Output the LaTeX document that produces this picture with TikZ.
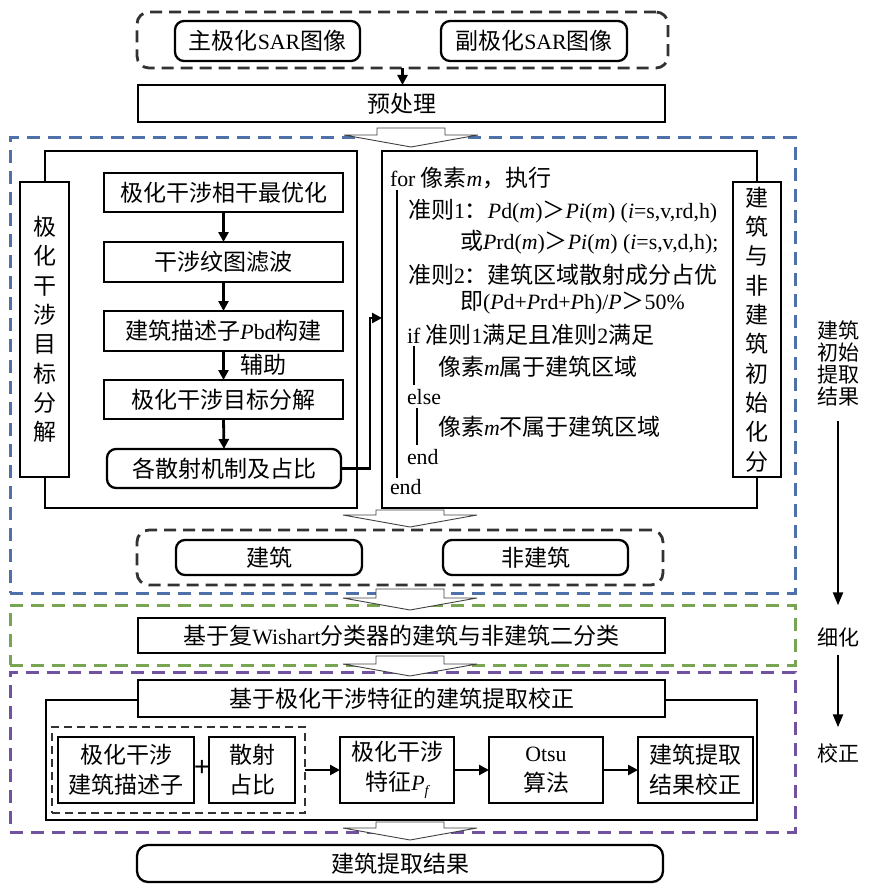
\documentclass[tikz,border=0pt]{standalone}
\usepackage{fontspec}
\setmainfont[Scale=0.95]{Liberation Serif}
\newfontfamily\cjk{Noto Sans CJK SC}
\usetikzlibrary{arrows.meta}
\definecolor{bluedash}{RGB}{79,113,170}
\definecolor{greendash}{RGB}{120,165,82}
\definecolor{purpledash}{RGB}{112,82,160}
\definecolor{darkdash}{RGB}{50,50,50}
\newcommand\lt[1]{{\rmfamily #1}}
\newcommand\iv[1]{{\rmfamily\itshape #1}}
\newcommand\harrow[4]{\draw[harr] (#1-34,#2) -- (#1-34,#3) -- (#1-67,#3) -- (#1,#4) -- (#1+67,#3) -- (#1+34,#3) -- (#1+34,#2) -- cycle;}
\begin{document}
\begin{tikzpicture}[x=1pt,y=-1pt,
 every node/.style={font=\cjk\fontsize{23}{28}\selectfont, inner sep=0pt, outer sep=0pt},
 sz/.style 2 args={minimum width=#1pt, minimum height=#2pt},
 box/.style={draw, line width=2.3pt, fill=white},
 rbox/.style={box, rounded corners=9pt},
 dbox/.style={draw=darkdash, line width=2.8pt, dash pattern=on 12pt off 7pt, rounded corners=12pt},
 region/.style={line width=3pt, dash pattern=on 13pt off 8pt},
 arr/.style={line width=2.8pt, -{Triangle[length=10pt,width=10pt]}},
 arrs/.style={line width=2.3pt, -{Triangle[length=13pt,width=10pt]}},
 harr/.style={draw=black!75, line width=0.9pt, fill=white},
 alg/.style={anchor=west},
 vtext/.style={align=center, font=\cjk\fontsize{23}{29.3}\selectfont},
 two/.style={align=center, font=\cjk\fontsize{23}{30}\selectfont},
 side/.style={align=center, font=\cjk\fontsize{21}{22.3}\selectfont},
]
\useasboundingbox (0,0) rectangle (869,896);

% colored regions
\node[region, draw=bluedash, sz={785}{455}] (blue) at (402.5,365.5) {};
\node[region, draw=greendash, sz={785}{60}] (green) at (402.5,635) {};
\node[region, draw=purpledash, sz={785}{160}] (purple) at (402.5,752) {};

% top
\node[dbox, sz={531}{56}] (src) at (402.5,40) {};
\node[rbox, sz={185}{40}] (main) at (267.5,41) {主极化\lt{SAR}图像};
\node[rbox, sz={186}{40}] (sub) at (534,41) {副极化\lt{SAR}图像};
\node[box, sz={527}{37}] (pre) at (401.5,103.5) {预处理};
\draw[arr] (src.south) -- (src.south |- pre.north);

% left block
\node[box, sz={312}{357}] (LB) at (201,329.5) {};
\node[box, sz={49}{295}, vtext] (LV) at (44.5,329.5) {极\\化\\干\\涉\\目\\标\\分\\解};
\node[box, sz={239}{39}] (b1) at (223.5,192.5) {极化干涉相干最优化};
\node[box, sz={239}{40}] (b2) at (223.5,262) {干涉纹图滤波};
\node[box, sz={239}{40}] (b3) at (223.5,331) {建筑描述子\iv{P}\lt{bd}构建};
\node[box, sz={239}{39}] (b4) at (223.5,399.5) {极化干涉目标分解};
\node[rbox, sz={234}{39}] (b5) at (224,468.5) {各散射机制及占比};
\node (aux) at (263,365) {辅助};
\draw[arr] (b1.south) -- (b2.north);
\draw[arr] (b2.south) -- (b3.north);
\draw[arr] (b3.south) -- (b4.north);
\draw[arr] (b4.south) -- (b5.north);

% right block
\node[box, sz={375}{357}] (R) at (569.5,329.5) {};
\node[box, sz={48}{295}, vtext] (RV) at (757,329.5) {建\\筑\\与\\非\\建\\筑\\初\\始\\化\\分};
\coordinate (jn) at (370,318);
\draw[arr] (b5.east) -| (jn) -- (jn -| R.west);

\node[alg] (a1) at (390,178) {\lt{for} 像素\iv{m}，执行};
\node[alg] (a2) at (408,211) {准则\lt{1}：\iv{P}\lt{d(}\iv{m}\lt{)}＞\iv{Pi}\lt{(}\iv{m}\lt{) (}\iv{i}\lt{=s,v,rd,h)}};
\node[alg] (a3) at (460,242) {或\iv{P}\lt{rd(}\iv{m}\lt{)}＞\iv{Pi}\lt{(}\iv{m}\lt{) (}\iv{i}\lt{=s,v,d,h);}};
\node[alg] (a4) at (408,275) {准则\lt{2}：建筑区域散射成分占优};
\node[alg] (a5) at (460,303) {即\lt{(}\iv{P}\lt{d+}\iv{P}\lt{rd+}\iv{P}\lt{h)/}\iv{P}＞\lt{50\%}};
\node[alg] (a6) at (407,335) {\lt{if} 准则\lt{1}满足且准则\lt{2}满足};
\node[alg] (a7) at (438,367) {像素\iv{m}属于建筑区域};
\node[alg] (a8) at (407,397) {\lt{else}};
\node[alg] (a9) at (438,427) {像素\iv{m}不属于建筑区域};
\node[alg] (a10) at (407,457) {\lt{end}};
\node[alg] (a11) at (390,487) {\lt{end}};
\draw[line width=1.2pt] (397,190) -- (397,478);
\draw[line width=1.2pt] (414,346) -- (414,385);
\draw[line width=1.2pt] (417,408) -- (417,445);

% result of initial extraction
\node[dbox, sz={526}{55}] (res) at (400,557.5) {};
\node[rbox, sz={186}{35}] (bld) at (269,557.5) {建筑};
\node[rbox, sz={185}{35}] (nbld) at (535.5,557.5) {非建筑};

% refinement
\node[box, sz={527}{35}] (wish) at (401.5,635.5) {基于复\lt{Wishart}分类器的建筑与非建筑二分类};

% correction
\node[box, sz={711}{120}] (IB) at (401.5,760) {};
\node[box, sz={527}{37}] (T) at (401.5,698.5) {基于极化干涉特征的建筑提取校正};
\node[draw=darkdash, line width=2.3pt, dash pattern=on 8pt off 5pt, sz={253}{86}] (DB) at (178.5,770) {};
\node[box, sz={136}{66}, two] (c1) at (126,770) {极化干涉\\建筑描述子};
\node[box, sz={86}{66}, two] (c2) at (252,770) {散射\\占比};
\node[font=\rmfamily\bfseries\fontsize{30}{30}\selectfont] (plus) at (202,768) {+};
\node[box, sz={114}{66}, two] (c3) at (397,770) {极化干涉\\特征\iv{P}\raisebox{-0.35ex}{\iv{\fontsize{15}{15}\selectfont f}}};
\node[box, sz={114}{66}, two] (c4) at (546,770) {\lt{Otsu}\\算法};
\node[box, sz={115}{66}, two] (c5) at (695.5,770) {建筑提取\\结果校正};
\draw[arr] (DB.east) -- (c3.west);
\draw[arr] (c3.east) -- (c4.west);
\draw[arr] (c4.east) -- (c5.west);

% final
\node[rbox, rounded corners=11pt, sz={526}{37}] (F) at (400,863.5) {建筑提取结果};

% hollow arrows
\harrow{411}{128}{135}{147}
\harrow{410}{510}{515}{527}
\harrow{410}{589}{598}{610}
\harrow{410}{656}{664}{676}
\harrow{410}{822}{828}{840}

% side labels
\node[side] (r1) at (838,363.5) {建筑\\初始\\提取\\结果};
\node[side] (r2) at (838,637) {细化};
\node[side] (r3) at (838,753) {校正};
\draw[arrs, shorten <=14pt, shorten >=22pt] (r1.south) -- (r2.north);
\draw[arrs, shorten <=8pt, shorten >=16pt] (r2.south) -- (r3.north);
\end{tikzpicture}
\end{document}
